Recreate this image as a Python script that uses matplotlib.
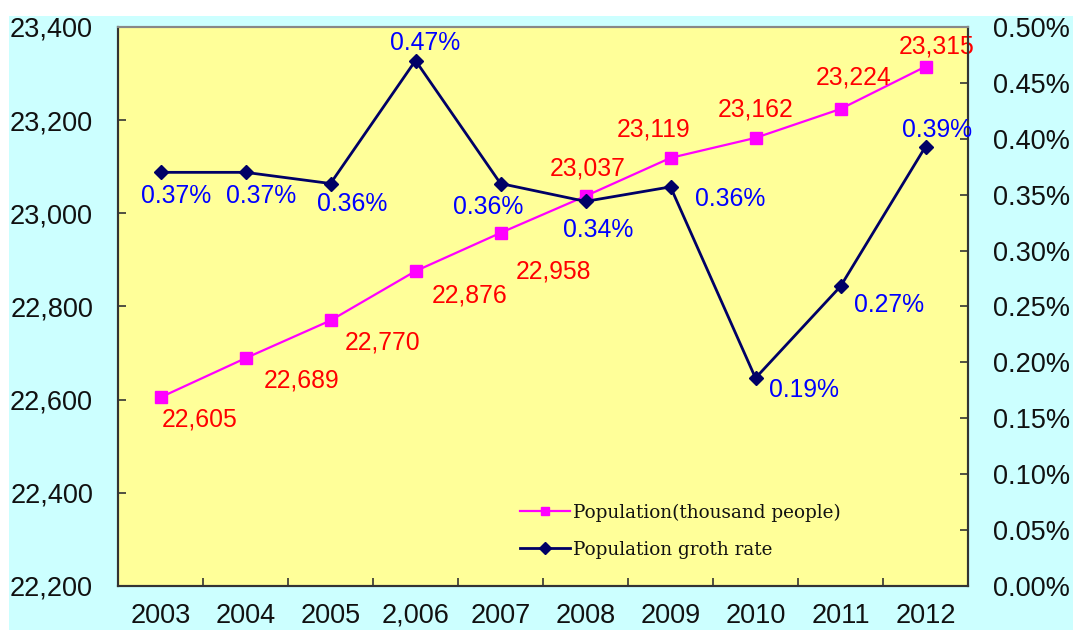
import matplotlib
matplotlib.use("Agg")
import matplotlib.pyplot as plt
from matplotlib.patches import Rectangle
from matplotlib.ticker import FixedLocator, FuncFormatter, MultipleLocator

years = ["2003", "2004", "2005", "2,006", "2007", "2008", "2009", "2010", "2011", "2012"]
population = [22605, 22689, 22770, 22876, 22958, 23037, 23119, 23162, 23224, 23315]
growth_rate = [0.37, 0.37, 0.36, 0.47, 0.36, 0.344, 0.357, 0.186, 0.268, 0.393]

pop_offsets = [(39, -22), (56, -22), (52, -22), (54, -24), (53, -39),
               (2, 28), (-17, 28), (0, 28), (13, 31), (11, 20)]
rate_offsets = [(16, -24), (16, -24), (22, -20), (10, 18), (-12, -23),
                (13, -29), (60, -12), (48, -12), (49, -19), (12, 17)]

W, H = 1073, 630
fig = plt.figure(figsize=(W / 100, H / 100), dpi=100, facecolor="white")
fig.add_artist(Rectangle((9 / W, 0), 1 - 9 / W, (H - 16) / H, transform=fig.transFigure,
                         facecolor="#CCFFFF", edgecolor="none", zorder=-10))

ax = fig.add_axes([118 / W, (H - 586) / H, (968 - 118) / W, (586 - 27) / H])
ax.set_facecolor("#FFFF99")
ax2 = ax.twinx()

x = list(range(len(years)))
FONT = "Liberation Sans"

l1, = ax.plot(x, population, color="#FF00FF", lw=1.6, marker="s", markersize=8.5,
              markeredgecolor="#FF00FF", markerfacecolor="#FF00FF", zorder=3)
l2, = ax2.plot(x, growth_rate, color="#000066", lw=2.0, marker="D", markersize=7,
               markeredgecolor="#000066", markerfacecolor="#000066", zorder=3)

ax.set_xlim(-0.5, len(years) - 0.5)
ax.set_ylim(22200, 23400)
ax.yaxis.set_major_locator(MultipleLocator(200))
ax.yaxis.set_major_formatter(FuncFormatter(lambda v, p: f"{int(v):,}"))
ax2.set_ylim(0, 0.5)
ax2.yaxis.set_major_locator(MultipleLocator(0.05))
ax2.yaxis.set_major_formatter(FuncFormatter(lambda v, p: f"{v:.2f}%"))

ax.set_xticks(x)
ax.set_xticklabels(years)
ax.xaxis.set_minor_locator(FixedLocator([i + 0.5 for i in range(len(years) - 1)]))
ax.tick_params(axis="x", which="major", length=0, pad=12, labelsize=19.5, labelcolor="#111111")
ax.tick_params(axis="x", which="minor", direction="in", length=6, width=1.2, color="#333333")
ax.tick_params(axis="y", direction="in", length=6, width=1.2, color="#333333", pad=18,
               labelsize=19.5, labelcolor="#111111")
ax2.tick_params(axis="y", direction="in", length=6, width=1.2, color="#333333", pad=18,
                labelsize=19.5, labelcolor="#111111")
for a in (ax, ax2):
    for lab in a.get_xticklabels() + a.get_yticklabels():
        lab.set_fontfamily(FONT)

for a in (ax, ax2):
    a.spines["top"].set_color("#888888")
    a.spines["left"].set_color("#333333")
    a.spines["bottom"].set_color("#333333")
    a.spines["right"].set_color("#333333")
    for s in a.spines.values():
        s.set_linewidth(1.5)

for xi, v, off in zip(x, population, pop_offsets):
    ax.annotate(f"{v:,}", (xi, v), xytext=off, textcoords="offset pixels",
                ha="center", va="center", color="#FF0000", fontsize=17.8,
                fontfamily=FONT, zorder=4)
for xi, v, off in zip(x, growth_rate, rate_offsets):
    ax2.annotate(f"{v:.2f}%", (xi, v), xytext=off, textcoords="offset pixels",
                 ha="center", va="center", color="#0000FF", fontsize=17.8,
                 fontfamily=FONT, zorder=4)

leg = ax2.legend([l1, l2], ["Population(thousand people)", "Population groth rate"],
                 loc="center left", bbox_to_anchor=(511 / W, (H - 531) / H),
                 bbox_transform=fig.transFigure, frameon=False, handlelength=2.7,
                 handletextpad=0.2, labelspacing=1.05, borderpad=0,
                 prop={"family": "DejaVu Serif", "size": 13.2})
for h in leg.legend_handles:
    h.set_markersize(6)
for t in leg.get_texts():
    t.set_color("#111111")

fig.savefig("out.png", dpi=100, facecolor=fig.get_facecolor())
